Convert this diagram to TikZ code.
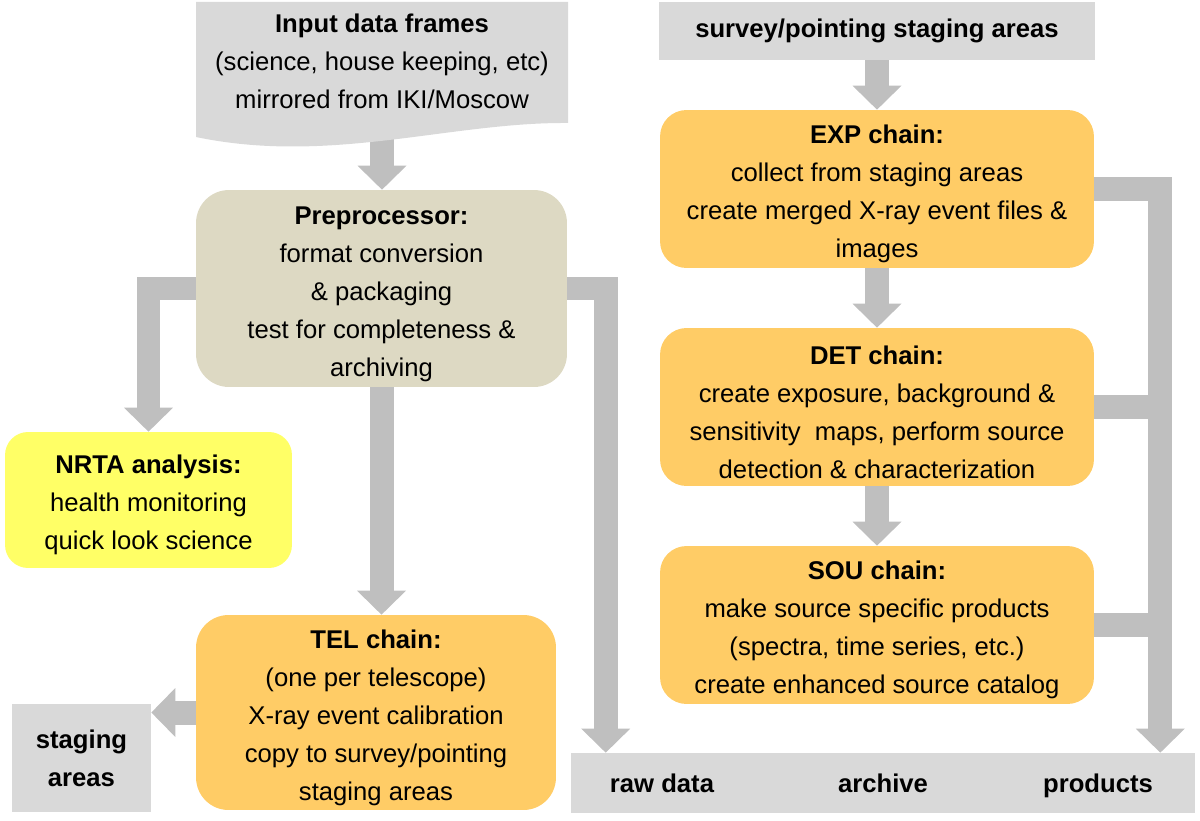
\documentclass[tikz,border=0pt]{standalone}
\usepackage{fontspec}
\setmainfont{Liberation Sans}
\usepackage{tikz}
\usetikzlibrary{arrows.meta,calc,positioning,backgrounds}
\definecolor{boxgray}{HTML}{D9D9D9}
\definecolor{arrgray}{HTML}{BFBFBF}
\definecolor{chainorange}{HTML}{FFCC66}
\definecolor{prepbeige}{HTML}{DDD9C3}
\definecolor{nrtayellow}{HTML}{FFFF66}
\newcommand\chainhead[1]{\rule{0pt}{16.3pt}\textbf{#1}}
\tikzset{>=latex,
  txt/.style={align=center,font=\fontsize{14.6}{21.6}\selectfont,inner sep=0pt},
  chainbox/.style={txt,fill=chainorange,rounded corners=0.53cm,minimum width=8.68cm,minimum height=3.16cm},
  graybox/.style={txt,fill=boxgray,font=\fontsize{14.6}{21.6}\selectfont\bfseries},
  flow/.style={draw=arrgray,line width=0.48cm,line join=miter,-{Triangle[length=0.48cm,width=0.98cm,line width=0pt]}},
  feed/.style={draw=arrgray,line width=0.48cm}
}

\begin{document}
\begin{tikzpicture}[x=0.02cm,y=-0.02cm]
\useasboundingbox (0,0) rectangle (1200,821);

% input frames, document shape
\fill[boxgray] (196,2) -- (568,2) -- (568,123) .. controls (450,122) and (330,165) .. (196,137) -- cycle;
\node[txt] (input) at (382,61) {\textbf{Input data frames}\\(science, house keeping, etc)\\mirrored from IKI/Moscow};

\node[chainbox,fill=prepbeige,minimum width=7.42cm,minimum height=3.94cm,rounded corners=0.66cm] (prep) at (381.5,288.5)
  {\chainhead{Preprocessor:}\\format conversion\\\& packaging\\test for completeness \&\\archiving};
\node[chainbox,fill=nrtayellow,minimum width=5.74cm,minimum height=2.72cm,rounded corners=0.46cm] (nrta) at (148.5,500)
  {\chainhead{NRTA analysis:}\\health monitoring\\quick look science};
\node[chainbox,minimum width=7.2cm,minimum height=3.9cm,rounded corners=0.65cm] (tel) at (376,712.5)
  {\chainhead{TEL chain:}\\(one per telescope)\\X-ray event calibration\\copy to survey/pointing\\staging areas};
\node[graybox,minimum width=2.78cm,minimum height=2.16cm] (staging) at (81.5,758) {staging\\areas};

\node[graybox,minimum width=8.72cm,minimum height=1.16cm] (survey) at (877,31) {survey/pointing staging areas};
\node[chainbox] (exp) at (877,189)
  {\chainhead{EXP chain:}\\collect from staging areas\\create merged X-ray event files \&\\images};
\node[chainbox] (det) at (877,407)
  {\chainhead{DET chain:}\\create exposure, background \&\\sensitivity\ \ maps, perform source\\detection \& characterization};
\node[chainbox] (sou) at (877,625)
  {\chainhead{SOU chain:}\\make source specific products\\(spectra, time series, etc.)\\create enhanced source catalog};

% archive band
\node[graybox,minimum width=12.48cm,minimum height=1.2cm] (archive) at (883,783) {archive};
\node[txt,font=\fontsize{14.6}{21.6}\selectfont\bfseries,anchor=base] (raw) at ($(archive.base)+(-221,0)$) {raw data};
\node[txt,font=\fontsize{14.6}{21.6}\selectfont\bfseries,anchor=base] (prod) at ($(archive.base)+(215,0)$) {products};

\begin{scope}[on background layer]
\draw[flow] (input.south) -- (input.south |- prep.north);
\draw[flow] (prep.west) -| (nrta.north);
\draw[flow] (prep.south) -- (prep.south |- tel.north);
\draw[flow] (tel.west) -- (tel.west -| staging.east);
\draw[flow] (prep.east) -| ($(archive.north west)+(35,0)$);
\draw[flow] (survey.south) -- (exp.north);
\draw[flow] (exp.south) -- (det.north);
\draw[flow] (det.south) -- (sou.north);
\coordinate (bus) at ($(archive.north east)+(-35,0)$);
\draw[flow] (exp.east) -| (bus);
\draw[feed] (det.east) -- (det.east -| bus);
\draw[feed] (sou.east) -- (sou.east -| bus);
\end{scope}
\end{tikzpicture}
\end{document}
